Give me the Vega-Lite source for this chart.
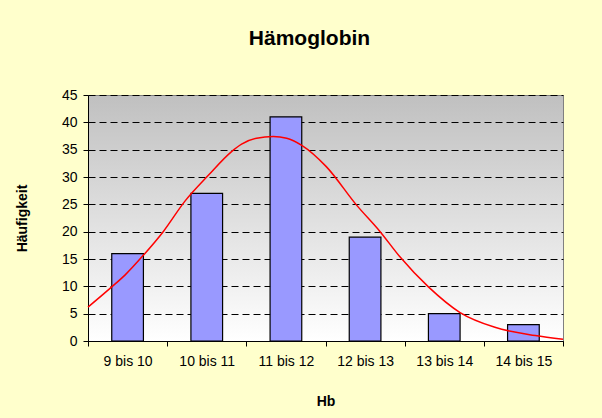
{
  "$schema": "https://vega.github.io/schema/vega-lite/v6.json",
  "width": 475,
  "height": 246,
  "autosize": "none",
  "padding": {"left": 88, "top": 95, "right": 39, "bottom": 77},
  "background": "#FFFFCC",
  "config": {
    "font": "Liberation Sans",
    "view": {
      "stroke": "#808080",
      "strokeWidth": 1,
      "fill": {"expr": "{gradient: 'linear', x1: 0, y1: 0, x2: 0, y2: 1, stops: [{offset: 0, color: '#C0C0C0'}, {offset: 1, color: '#FFFFFF'}]}"}
    }
  },
  "title": {
    "text": "Hämoglobin",
    "font": "Liberation Sans",
    "fontSize": 21,
    "fontWeight": "bold",
    "color": "#000000",
    "anchor": "middle",
    "dx": -16,
    "baseline": "alphabetic",
    "offset": 22
  },
  "datasets": {
    "bars": [
      {"Hb": "9 bis 10", "Häufigkeit": 16},
      {"Hb": "10 bis 11", "Häufigkeit": 27},
      {"Hb": "11 bis 12", "Häufigkeit": 41},
      {"Hb": "12 bis 13", "Häufigkeit": 19},
      {"Hb": "13 bis 14", "Häufigkeit": 5},
      {"Hb": "14 bis 15", "Häufigkeit": 3}
    ],
    "curve": [
      {"x": 9.0, "Häufigkeit": 6.2},
      {"x": 9.3, "Häufigkeit": 9.9},
      {"x": 9.47, "Häufigkeit": 12.1},
      {"x": 9.7, "Häufigkeit": 15.7},
      {"x": 9.95, "Häufigkeit": 20.0},
      {"x": 10.22, "Häufigkeit": 25.5},
      {"x": 10.52, "Häufigkeit": 30.3},
      {"x": 10.81, "Häufigkeit": 34.6},
      {"x": 10.94, "Häufigkeit": 36.0},
      {"x": 11.13, "Häufigkeit": 37.1},
      {"x": 11.34, "Häufigkeit": 37.4},
      {"x": 11.51, "Häufigkeit": 37.1},
      {"x": 11.7, "Häufigkeit": 35.8},
      {"x": 12.01, "Häufigkeit": 31.9},
      {"x": 12.39, "Häufigkeit": 24.9},
      {"x": 12.69, "Häufigkeit": 20.0},
      {"x": 12.94, "Häufigkeit": 15.4},
      {"x": 13.3, "Häufigkeit": 9.9},
      {"x": 13.7, "Häufigkeit": 5.2},
      {"x": 14.14, "Häufigkeit": 2.5},
      {"x": 14.65, "Häufigkeit": 1.0},
      {"x": 15.0, "Häufigkeit": 0.3}
    ]
  },
  "layer": [
    {
      "data": {"name": "bars"},
      "mark": {"type": "bar", "color": "#9999FF", "stroke": "#000000", "strokeWidth": 1.2, "width": {"band": 0.4}},
      "encoding": {
        "x": {
          "field": "Hb",
          "type": "nominal",
          "sort": null,
          "scale": {"paddingInner": 0, "paddingOuter": 0},
          "axis": {
            "title": "Hb",
            "titleFontSize": 14,
            "titleFontWeight": "bold",
            "titleColor": "#000000",
            "titlePadding": 26,
            "labelAngle": 0,
            "labelFontSize": 14,
            "labelColor": "#000000",
            "labelPadding": 8,
            "tickBand": "extent",
            "tickSize": 5,
            "tickColor": "#000000",
            "domainColor": "#000000",
            "grid": false
          }
        },
        "y": {
          "field": "Häufigkeit",
          "type": "quantitative",
          "scale": {"domain": [0, 45], "nice": false},
          "axis": {
            "title": "Häufigkeit",
            "titleFontSize": 14,
            "titleFontWeight": "bold",
            "titleColor": "#000000",
            "titlePadding": 32,
            "values": [0, 5, 10, 15, 20, 25, 30, 35, 40, 45],
            "labelFontSize": 14,
            "labelColor": "#000000",
            "labelPadding": 6,
            "labelOverlap": false,
            "tickSize": 5,
            "tickColor": "#000000",
            "domainColor": "#000000",
            "grid": true,
            "gridColor": "#000000",
            "gridDash": [7, 4],
            "gridWidth": 1
          }
        }
      }
    },
    {
      "data": {"name": "curve"},
      "mark": {"type": "line", "color": "#FF0000", "strokeWidth": 1.5, "interpolate": "monotone"},
      "encoding": {
        "x": {"field": "x", "type": "quantitative", "scale": {"domain": [9, 15], "nice": false, "zero": false}, "axis": null},
        "y": {"field": "Häufigkeit", "type": "quantitative", "scale": {"domain": [0, 45], "nice": false}, "axis": null}
      }
    }
  ],
  "resolve": {"scale": {"x": "independent", "y": "independent"}, "axis": {"x": "independent", "y": "independent"}}
}
